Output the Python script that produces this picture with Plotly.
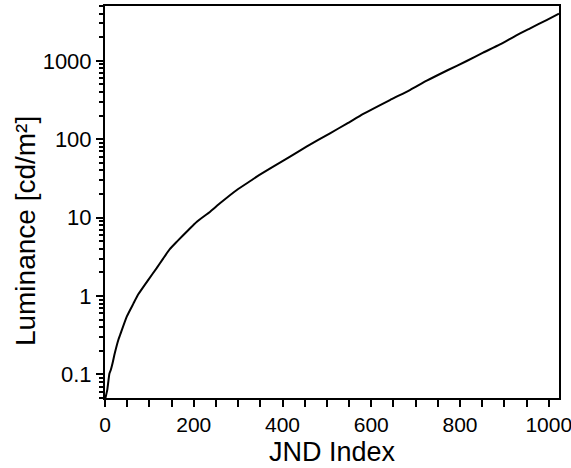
import plotly.graph_objects as go

# JND index vs luminance
jnd_index = [1, 5, 7, 10, 13, 17, 22, 30, 34, 49, 64, 75, 98, 116, 131, 146, 162,
             188, 207, 237, 259, 297, 331, 342, 379, 417, 454, 507, 545, 582, 642,
             687, 725, 773, 815, 852, 890, 928, 958, 995, 1023]
luminance = [0.05, 0.063, 0.077, 0.103, 0.114, 0.139, 0.186, 0.275, 0.318, 0.545,
             0.80, 1.05, 1.62, 2.25, 3.0, 3.95, 4.93, 6.95, 8.87, 11.9, 15.2,
             22.5, 30.2, 33.3, 44.6, 59.8, 80.2, 119, 158, 210, 316, 424, 557,
             763, 994, 1270, 1620, 2133, 2600, 3311, 3990]

x_tickvals = [0, 200, 400, 600, 800, 1000]
y_tickvals = [0.1, 1, 10, 100, 1000]
y_ticktext = ["0.1", "1", "10", "100", "1000"]

font_family = "Liberation Sans, Arial, sans-serif"

fig = go.Figure()
fig.add_trace(go.Scatter(x=jnd_index, y=luminance, mode="lines",
                         line=dict(color="black", width=2, shape="spline", smoothing=0.5),
                         showlegend=False))

fig.update_layout(
    width=571, height=468,
    margin=dict(l=105, r=12, t=6, b=70, autoexpand=False),
    paper_bgcolor="white", plot_bgcolor="white",
    font=dict(family=font_family, color="black", size=22),
)
fig.update_xaxes(
    range=[0, 1023], tickvals=x_tickvals, ticks="outside", ticklen=7, tickwidth=2,
    tickcolor="black", showline=True, linecolor="black", linewidth=2, mirror=True,
    showgrid=False, zeroline=False, tickfont=dict(size=21), automargin=False,
    ticklabeloverflow="allow",
    minor=dict(dtick=50, ticks="outside", ticklen=7, tickwidth=2, tickcolor="black", showgrid=False),
)
fig.update_yaxes(
    type="log", range=[-1.30103, 3.69897], tickvals=y_tickvals, ticktext=y_ticktext,
    ticks="outside", ticklen=7, tickwidth=2, tickcolor="black",
    showline=True, linecolor="black", linewidth=2, mirror=True,
    showgrid=False, zeroline=False, tickfont=dict(size=22), automargin=False,
    ticklabeloverflow="allow",
    minor=dict(dtick="D1", ticks="outside", ticklen=4, tickwidth=1.5, tickcolor="black", showgrid=False),
)
fig.add_annotation(text="JND Index", xref="paper", yref="paper", x=0.5, y=-0.138,
                   xanchor="center", yanchor="middle", showarrow=False,
                   font=dict(size=27, family=font_family, color="black"))
fig.add_annotation(text="Luminance [cd/m²]", xref="paper", yref="paper", x=-0.176, y=0.426,
                   xanchor="center", yanchor="middle", textangle=-90, showarrow=False,
                   font=dict(size=28, family=font_family, color="black"))

fig.write_html("out.html", config={"displayModeBar": False},
               post_script="document.body.style.margin='0';document.body.style.overflow='hidden';")
